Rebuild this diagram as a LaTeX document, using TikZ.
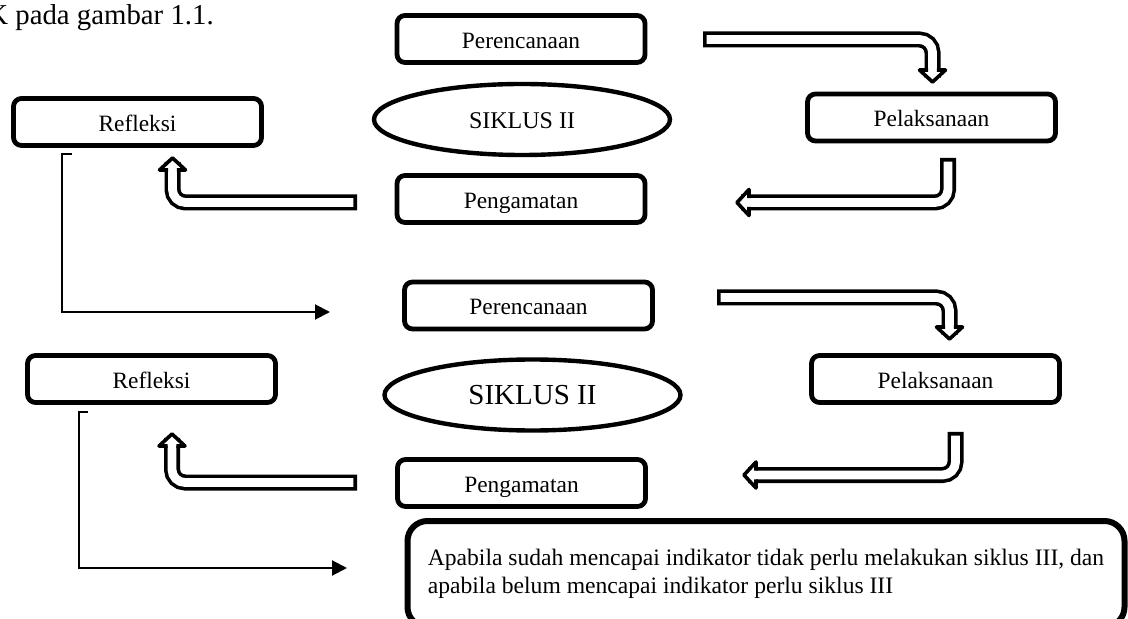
\documentclass[tikz,border=0pt]{standalone}
\usepackage{fontspec}
\setmainfont{Liberation Serif}
\usetikzlibrary{arrows.meta,positioning,shapes}

\begin{document}
\begin{tikzpicture}[
		x=0.5pt, y=-0.5pt,
		stage/.style={
			draw, line width=2.4pt, rounded corners=4pt, align=center,
			minimum width=124pt, minimum height=23.5pt,
			text height=1em, text depth=0.06em,
			font=\fontsize{11.7}{14}\selectfont
		},
		siklus/.style={
			draw, ellipse, line width=2.2pt, inner sep=0pt,
			minimum width=148pt, minimum height=35.5pt
		},
		remark/.style={
			draw, line width=3pt, rounded corners=10pt, align=left,
			minimum width=358.5pt, minimum height=53pt,
			font=\fontsize{11.8}{14}\selectfont
		},
		pipe/.style={
			draw, line width=1.8pt, double=white, double distance=4.4pt,
			line cap=rect, rounded corners=6.5pt
		},
		bhead/.pic={
			\filldraw [fill=white, line width=1.8pt, line join=round]
				(-4.4,0) -- (-13,0) -- (0,12) -- (13,0) -- (4.4,0);
		},
		loopback/.style={
			line width=1pt, -{Triangle[length=7.5pt,width=7.5pt]}
		},
		]
		\useasboundingbox (0,0) rectangle (1128,619);
		
		% text above the figure
		\node [anchor=base west, inner sep=0pt, font=\fontsize{14.4}{17}\selectfont] (caption) at (-13,25) {K pada gambar 1.1.};
		
		% first cycle
		\node [stage] (plan1) at (521,39) {Perencanaan};
		\node [stage] (act1) at (931.5,117.5) {Pelaksanaan};
		\node [stage] (obs1) at (521,199) {Pengamatan};
		\node [stage] (refl1) at (137.5,122) {Refleksi};
		\node [siklus, font=\fontsize{12}{14}\selectfont, text height=1em, text depth=0.06em] (cyc1) at (522,119.5) {SIKLUS II};
		
		% second cycle
		\node [stage] (plan2) at (528.5,305.5) {Perencanaan};
		\node [stage] (act2) at (935.5,379) {Pelaksanaan};
		\node [stage] (obs2) at (521.5,483) {Pengamatan};
		\node [stage] (refl2) at (151.5,379) {Refleksi};
		\node [siklus, font=\fontsize{14.5}{17}\selectfont] (cyc2) at (532.5,395) {SIKLUS II};
		
		% conclusion
		\node [remark] (concl) at (766,574) {Apabila sudah mencapai indikator tidak perlu melakukan siklus III, dan\\apabila belum mencapai indikator perlu siklus III};
		
		% fat arrows, first cycle
		\coordinate (s1) at (711,39.5);   \coordinate (h1) at (932.5,70);
		\coordinate (s2) at (948,166);    \coordinate (h2) at (749,202.5);
		\coordinate (s3) at (349,202.5);  \coordinate (h3) at (172.5,170);
		\draw [pipe] (s1) -| (h1);
		\draw [pipe] (s2) |- (h2);
		\draw [pipe] (s3) -| (h3);
		\pic at (h1) {bhead};
		\pic [rotate=-90] at (h2) {bhead};
		\pic [rotate=180] at (h3) {bhead};
		
		% fat arrows, second cycle
		\coordinate (s4) at (725,297.5);  \coordinate (h4) at (949.5,327);
		\coordinate (s5) at (955.5,440);  \coordinate (h5) at (756,475);
		\coordinate (s6) at (349,482.5);  \coordinate (h6) at (172,446);
		\draw [pipe] (s4) -| (h4);
		\draw [pipe] (s5) |- (h5);
		\draw [pipe] (s6) -| (h6);
		\pic at (h4) {bhead};
		\pic [rotate=-90] at (h5) {bhead};
		\pic [rotate=180] at (h6) {bhead};
		
		% from Refleksi on
		\coordinate (t1) at (72,154);  \coordinate (g1) at (330,312);
		\coordinate (t2) at (88,412);  \coordinate (g2) at (347,568);
		\draw [loopback] (t1) -- ++(-10,0) |- (g1);
		\draw [loopback] (t2) -- ++(-9,0) |- (g2);
		
	\end{tikzpicture}
\end{document}
